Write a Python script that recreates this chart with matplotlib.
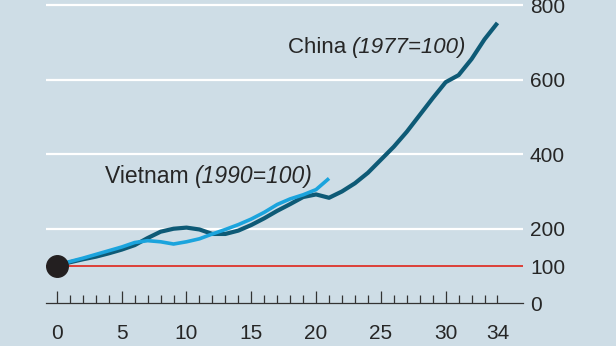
import matplotlib
matplotlib.use("Agg")
import matplotlib.pyplot as plt
import numpy as np

plt.rcParams['font.family'] = ['Liberation Sans', 'DejaVu Sans']

# Data (index, base year = 100)
china_years = list(range(0, 35))
china_values = [100, 110, 118, 125, 134, 144, 156, 175, 192, 200,
                203, 198, 186, 186, 195, 210, 228, 248, 266, 285,
                292, 283, 300, 322, 350, 385, 420, 460, 505, 550,
                593, 612, 655, 708, 752]
vietnam_years = list(range(0, 22))
vietnam_values = [100, 112, 121, 131, 141, 151, 163, 168, 165, 159,
                  165, 173, 186, 198, 211, 226, 244, 265, 280, 291,
                  305, 335]

xtick_major = [0, 5, 10, 15, 20, 25, 30, 34]
xtick_labels = ['0', '5', '10', '15', '20', '25', '30', '34']
ytick_vals = [0, 100, 200, 400, 600, 800]
ytick_labels = ['0', '100', '200', '400', '600', '800']
grid_vals = [200, 400, 600, 800]

BG = '#cedde6'
DARK = '#0e5a76'
LIGHT = '#1ba4dd'
RED = '#e0251b'
TXT = '#262626'

fig = plt.figure(figsize=(6.16, 3.46), dpi=100, facecolor=BG)
W, H = 616, 346
left_px, right_px = 46.3, 523
y0_px, ytop_px = 303.3, 1.3
ax = fig.add_axes([left_px / W, (H - y0_px) / H,
                   (right_px - left_px) / W, (y0_px - ytop_px) / H])
ax.set_facecolor(BG)
ax.set_xlim(-0.82, 35.97)
ax.set_ylim(0, 810)

for s in ['top', 'left', 'right']:
    ax.spines[s].set_visible(False)
ax.spines['bottom'].set_color('#333333')
ax.spines['bottom'].set_linewidth(0.9)

for g in grid_vals:
    ax.axhline(g, color='white', lw=1.6, zorder=1)
ax.axhline(100, color=RED, lw=1.2, zorder=2)

ax.plot(china_years, china_values, color=DARK, lw=3.0, zorder=3,
        solid_capstyle='butt', solid_joinstyle='round')
ax.plot(vietnam_years, vietnam_values, color=LIGHT, lw=2.6, zorder=4,
        solid_capstyle='butt', solid_joinstyle='round')
ax.plot([china_years[0]], [china_values[0]], 'o', color='#231f20',
        markersize=15.5, zorder=6, clip_on=False)

# x ticks
ax.set_xticks(xtick_major)
ax.set_xticklabels(xtick_labels)
minor = [i for i in range(0, 35) if i not in xtick_major]
ax.set_xticks(minor, minor=True)
ax.tick_params(axis='x', which='major', direction='in', length=8.5,
               width=0.9, color='#333333', pad=15, labelsize=15,
               labelcolor=TXT)
ax.tick_params(axis='x', which='minor', direction='in', length=5.8,
               width=0.9, color='#333333')
ax.xaxis.get_major_ticks()[-1].tick1line.set_markersize(5.8)

# y ticks on right
ax.yaxis.tick_right()
ax.set_yticks(ytick_vals)
ax.set_yticklabels(ytick_labels)
ax.tick_params(axis='y', length=0, pad=5, labelsize=15, labelcolor=TXT)

ax.text(17.83, 671, 'China ', fontsize=16, color=TXT, va='baseline')
t = ax.text(17.83, 671, 'China ', fontsize=16, color=TXT, va='baseline', alpha=0)
fig.canvas.draw()
bb = t.get_window_extent()
xe = ax.transData.inverted().transform((bb.x1, 0))[0]
ax.text(xe, 671, '(1977=100)', fontsize=16, color=TXT, va='baseline',
        style='italic')

ax.text(3.71, 323, 'Vietnam ', fontsize=16.5, color=TXT, va='baseline')
t2 = ax.text(3.71, 323, 'Vietnam ', fontsize=16.5, color=TXT, va='baseline', alpha=0)
fig.canvas.draw()
bb2 = t2.get_window_extent()
xe2 = ax.transData.inverted().transform((bb2.x1, 0))[0]
ax.text(xe2, 323, '(1990=100)', fontsize=16.5, color=TXT, va='baseline',
        style='italic')

fig.savefig('out.png', dpi=100, facecolor=BG)
